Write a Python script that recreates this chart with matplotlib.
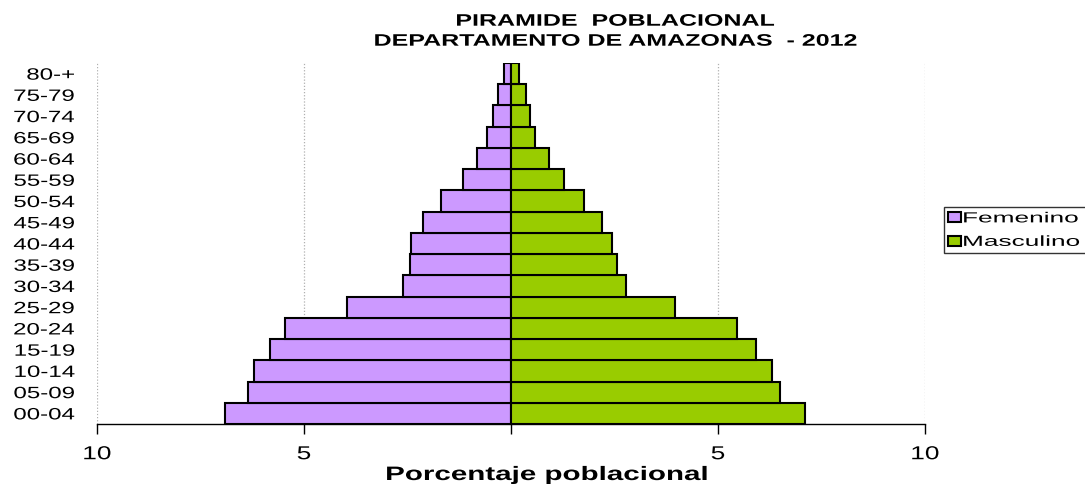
import numpy as np
import matplotlib
matplotlib.use("Agg")
import matplotlib.pyplot as plt
from matplotlib import patheffects
from matplotlib.path import Path
from matplotlib.patches import Rectangle
from matplotlib.legend_handler import HandlerPatch
from matplotlib.transforms import Affine2D

plt.rcParams['font.family'] = ['Liberation Sans', 'DejaVu Sans']

# Grupos de edad (de abajo hacia arriba)
grupos = ["00-04", "05-09", "10-14", "15-19", "20-24", "25-29", "30-34", "35-39",
          "40-44", "45-49", "50-54", "55-59", "60-64", "65-69", "70-74", "75-79", "80-+"]

# Porcentaje poblacional por sexo
femenino = [6.90, 6.35, 6.21, 5.82, 5.47, 3.96, 2.61, 2.44, 2.41,
            2.12, 1.68, 1.15, 0.81, 0.58, 0.43, 0.32, 0.17]
masculino = [7.10, 6.49, 6.30, 5.91, 5.45, 3.96, 2.77, 2.57, 2.45,
             2.19, 1.76, 1.29, 0.91, 0.59, 0.47, 0.36, 0.19]

xticks = [-10, -5, 0, 5, 10]
xticklabels = ["10", "5", "", "5", "10"]


class Estirar(patheffects.AbstractPathEffect):
    """Estira el texto en horizontal (la fuente original es mas ancha)."""

    def __init__(self, sx, ancla="center"):
        super().__init__()
        self.sx = sx
        self.ancla = ancla

    def draw_path(self, renderer, gc, tpath, affine, rgbFace=None):
        v = tpath.vertices
        if tpath.codes is not None:
            v = v[tpath.codes != Path.CLOSEPOLY]
        if len(v) == 0:
            renderer.draw_path(gc, tpath, affine, rgbFace)
            return
        if self.ancla == "left":
            c = v[:, 0].min()
        elif self.ancla == "right":
            c = v[:, 0].max()
        else:
            c = (v[:, 0].min() + v[:, 0].max()) / 2
        t = Affine2D().translate(-c, 0).scale(self.sx, 1).translate(c, 0) + affine
        renderer.draw_path(gc, tpath, t, rgbFace)


def cuadrito(legend, orig_handle, xdescent, ydescent, width, height, fontsize):
    # cuadrado pequeño, algo separado del borde de la leyenda
    lado = 6.4
    return Rectangle((-xdescent + 2.6, -ydescent + (height - lado) / 2), lado, lado)


fig = plt.figure(figsize=(10.85, 4.85), dpi=100)
ax = fig.add_axes([97 / 1085, 1 - 425 / 485, (925 - 97) / 1085, (425 - 64) / 485])

y = np.arange(len(grupos))
ax.barh(y, -np.array(femenino), height=1.0, color="#CC99FF", edgecolor="black",
        linewidth=1.5, label="Femenino", zorder=3)
ax.barh(y, masculino, height=1.0, color="#99CC00", edgecolor="black",
        linewidth=1.5, label="Masculino", zorder=3)

ax.set_xlim(-10, 10)
ax.set_ylim(-0.5, len(grupos) - 0.5)

# Rejilla punteada
for gx in [-10, -5, 5, 10]:
    ax.axvline(gx, color="#b0b0b0", linestyle=(0, (1, 1.5)), linewidth=0.9, zorder=1)

ax.set_xticks(xticks)
ax.set_xticklabels(xticklabels, fontsize=13.5)
ax.set_yticks(y)
ax.set_yticklabels(grupos, fontsize=11.8)
ax.tick_params(axis="y", length=0, pad=16)
ax.tick_params(axis="x", direction="out", length=7, width=1, pad=9)
for t in ax.get_xticklabels():
    t.set_path_effects([Estirar(1.4)])
for t in ax.get_yticklabels():
    t.set_path_effects([Estirar(1.47, "right")])

for s in ["top", "right", "left"]:
    ax.spines[s].set_visible(False)
ax.spines["bottom"].set_color("black")
ax.spines["bottom"].set_linewidth(1)

fig.text(615 / 1085, 1 - 26.7 / 485, "PIRAMIDE  POBLACIONAL", ha="center",
         va="baseline", fontsize=12, fontweight="bold",
         path_effects=[Estirar(1.5)])
fig.text(615 / 1085, 1 - 46.7 / 485, "DEPARTAMENTO DE AMAZONAS  - 2012", ha="center",
         va="baseline", fontsize=12, fontweight="bold",
         path_effects=[Estirar(1.5)])
fig.text(547 / 1085, 1 - 481 / 485, "Porcentaje poblacional", ha="center",
         va="baseline", fontsize=14, fontweight="bold",
         path_effects=[Estirar(1.52)])

leg = fig.legend(loc="upper left",
                 bbox_to_anchor=(944 / 1085, 1 - 252 / 485, 200 / 1085, 44 / 485),
                 mode="expand", fontsize=10.5, frameon=True, fancybox=False,
                 handler_map={Rectangle: HandlerPatch(patch_func=cuadrito)},
                 handlelength=0.86, handleheight=0.7, handletextpad=0.14,
                 borderpad=0.3, labelspacing=0.65, borderaxespad=0)
leg.get_frame().set_edgecolor("black")
leg.get_frame().set_linewidth(1)
for t in leg.get_texts():
    t.set_path_effects([Estirar(1.8, "left")])

fig.savefig("out.png", dpi=100)
